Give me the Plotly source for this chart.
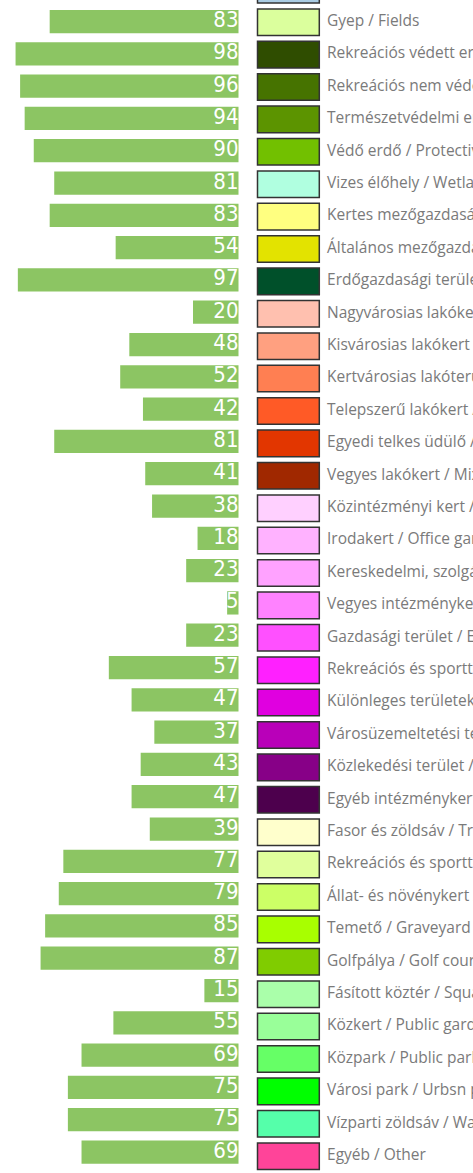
import plotly.graph_objects as go

labels = [
    "",
    "Gyep / Fields",
    "Rekreációs védett erdő / Protected recreational forest",
    "Rekreációs nem védett erdő / Unprotected recreational forest",
    "Természetvédelmi erdő / Nature conservation forest",
    "Védő erdő / Protective forest",
    "Vizes élőhely / Wetland",
    "Kertes mezőgazdasági terület / Garden agricultural area",
    "Általános mezőgazdasági terület / General agricultural area",
    "Erdőgazdasági terület / Forestry area",
    "Nagyvárosias lakókert / Metropolitan residential garden",
    "Kisvárosias lakókert / Small-town residential garden",
    "Kertvárosias lakóterület / Suburban residential area",
    "Telepszerű lakókert / Housing estate garden",
    "Egyedi telkes üdülő / Holiday home plot",
    "Vegyes lakókert / Mixed residential garden",
    "Közintézményi kert / Public institution garden",
    "Irodakert / Office garden",
    "Kereskedelmi, szolgáltató kert / Commercial garden",
    "Vegyes intézménykert / Mixed institutional garden",
    "Gazdasági terület / Economic area",
    "Rekreációs és sportterület / Recreation and sports area",
    "Különleges területek / Special areas",
    "Városüzemeltetési terület / Municipal service area",
    "Közlekedési terület / Transport area",
    "Egyéb intézménykert / Other institutional garden",
    "Fasor és zöldsáv / Tree row and green strip",
    "Rekreációs és sportterület / Recreation and sports park",
    "Állat- és növénykert / Zoo and botanical garden",
    "Temető / Graveyard",
    "Golfpálya / Golf course",
    "Fásított köztér / Square",
    "Közkert / Public garden",
    "Közpark / Public park",
    "Városi park / Urbsn park",
    "Vízparti zöldsáv / Waterfront green strip",
    "Egyéb / Other",
]

values = [None, 83, 98, 96, 94, 90, 81, 83, 54, 97, 20, 48, 52, 42, 81, 41, 38, 18,
          23, 5, 23, 57, 47, 37, 43, 47, 39, 77, 79, 85, 87, 15, 55, 69, 75, 75, 69]

swatch_colors = [
    "#a9cbe2", "#dbff9d", "#2f4d00", "#467300", "#5c9400", "#72c000", "#b0ffe0",
    "#ffff80", "#e3e300", "#00502a", "#ffc0af", "#ffa080", "#ff7f52", "#ff5a26",
    "#e23600", "#a02800", "#ffd0ff", "#ffb2ff", "#ffa2ff", "#ff82ff", "#ff50ff",
    "#ff20ff", "#e000e0", "#b900b9", "#870087", "#4d004d", "#ffffcc", "#e0ff9c",
    "#ccff66", "#a8ff00", "#80cc00", "#aaffaa", "#99ff99", "#66ff66", "#00ff00",
    "#55ffaa", "#ff4499",
]

rows = list(range(-1, len(labels) - 1))
bar_rows = [r for r, v in zip(rows, values) if v is not None]
bar_vals = [v for v in values if v is not None]

BAR_GREEN = "#8cc563"

fig = go.Figure()

fig.add_trace(go.Bar(
    orientation="h", y=bar_rows, x=bar_vals, width=0.72,
    marker=dict(color=BAR_GREEN, line=dict(width=0)),
    xaxis="x", yaxis="y", hoverinfo="skip", showlegend=False,
))

fig.add_trace(go.Scatter(
    x=[0] * len(bar_vals), y=bar_rows, mode="text",
    text=[str(v) for v in bar_vals], textposition="middle left",
    textfont=dict(family="Liberation Sans Narrow, DejaVu Sans Condensed, sans-serif",
                  size=22, color="#ffffff"),
    xaxis="x", yaxis="y", hoverinfo="skip", showlegend=False,
))

fig.add_trace(go.Bar(
    orientation="h", y=rows, x=[1] * len(rows), base=0, width=0.82,
    marker=dict(color=swatch_colors, line=dict(color="#333333", width=1.5)),
    xaxis="x2", yaxis="y2", hoverinfo="skip", showlegend=False,
))

fig.add_trace(go.Scatter(
    x=[1.125] * len(rows), y=rows, mode="text",
    text=labels, textposition="middle right",
    textfont=dict(family="Open Sans, sans-serif", size=15.5, color="#7a7a7a"),
    xaxis="x2", yaxis="y2", hoverinfo="skip", showlegend=False,
))

axis_off = dict(showgrid=False, zeroline=False, showticklabels=False,
                showline=False, ticks="", fixedrange=True)

fig.update_layout(
    width=473, height=1173, autosize=False,
    margin=dict(l=0, r=0, t=0, b=0, pad=0),
    paper_bgcolor="white", plot_bgcolor="white",
    barmode="overlay",
    xaxis=dict(range=[104.84, -103.08], domain=[0, 1], **axis_off),
    yaxis=dict(range=[35.65, -0.666], domain=[0, 1], **axis_off),
    xaxis2=dict(range=[-257.5 / 61.8, (473 - 257.5) / 61.8], domain=[0, 1],
                anchor="y2", overlaying="x", **axis_off),
    yaxis2=dict(range=[35.519, -0.685], domain=[0, 1], anchor="x2",
                overlaying="y", **axis_off),
)

fig.write_html("out.html", config={"displayModeBar": False},
               post_script="document.body.style.margin='0';")
